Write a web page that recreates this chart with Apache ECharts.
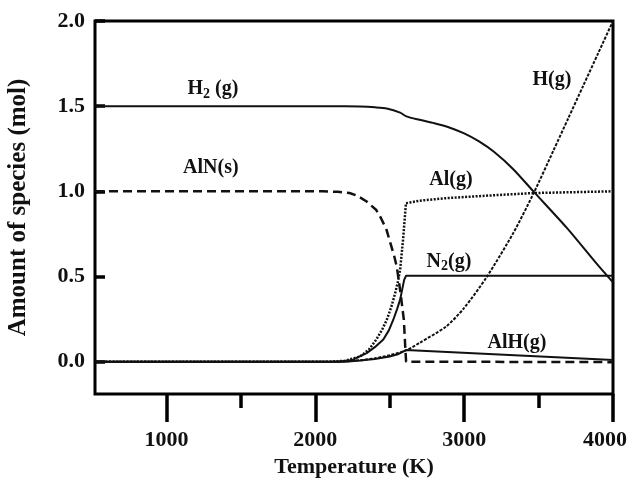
<!DOCTYPE html>
<html><head><meta charset="utf-8">
<script src="https://cdn.jsdelivr.net/npm/echarts@6/dist/echarts.min.js"></script>
<style>html,body{margin:0;padding:0;background:#fff}#c{width:629px;height:483px}</style>
</head><body><div id="c"></div>
<script>
// ---- data ----
const xMajorTicks = [1000, 2000, 3000, 4000];
const xMinorTicks = [1500, 2500, 3500];
const yTicks = [0, 0.5, 1.0, 1.5, 2.0];

const h2 = [[520,1.5],[2050,1.5],[2200,1.5],[2300,1.498],[2400,1.493],[2480,1.486],[2570,1.462],[2612,1.44],[2700,1.42],[2800,1.40],[2900,1.375],[3000,1.34],[3100,1.293],[3200,1.232],[3330,1.13],[3470,0.995],[3690,0.785],[3890,0.575],[4000,0.465]];
const aln = [[520,1.0],[2050,1.0],[2150,0.997],[2230,0.99],[2280,0.975],[2345,0.94],[2410,0.89],[2440,0.845],[2478,0.775],[2503,0.70],[2530,0.62],[2548,0.555],[2573,0.40],[2595,0.245],[2604,0.09],[2610,0.0],[2620,-0.003],[4000,-0.003]];
const alg = [[520,0],[2100,0],[2200,0.005],[2300,0.03],[2360,0.07],[2410,0.13],[2450,0.19],[2480,0.245],[2510,0.32],[2536,0.40],[2555,0.47],[2570,0.54],[2590,0.72],[2609,0.93],[2700,0.945],[2880,0.96],[3200,0.977],[3470,0.99],[4000,1.0]];
const n2 = [[520,0],[2150,0],[2250,0.01],[2345,0.05],[2400,0.085],[2457,0.13],[2495,0.185],[2524,0.246],[2550,0.31],[2570,0.364],[2597,0.48],[2610,0.505],[4000,0.505]];
const hg = [[520,0],[2150,0],[2300,0.008],[2400,0.02],[2500,0.038],[2609,0.066],[2700,0.11],[2880,0.207],[3000,0.315],[3150,0.495],[3330,0.755],[3470,0.995],[3600,1.24],[3700,1.43],[3800,1.62],[3900,1.81],[4000,2.0]];
const alh = [[520,0],[2200,0],[2300,0.006],[2400,0.016],[2500,0.03],[2560,0.045],[2609,0.068],[4000,0.01]];

const seriesLabels = [
  {text:'{m|H}{s|2}{m| (g)}', T:1312, v:1.601},
  {text:'{m|AlN(s)}', T:1298, v:1.138},
  {text:'{m|Al(g)}', T:2911, v:1.067},
  {text:'{m|H(g)}', T:3590, v:1.654},
  {text:'{m|N}{s|2}{m|(g)}', T:2898, v:0.587},
  {text:'{m|AlH(g)}', T:3355, v:0.111}
];

// ---- chart ----
const FONT = '"Liberation Serif","Times New Roman",serif';
const chart = echarts.init(document.getElementById('c'), null, {renderer:'canvas'});
const baseX = {
  type:'value', min:520, max:4000, position:'bottom',
  axisLine:{show:false, onZero:false}, splitLine:{show:false}
};
function line(data, type, width, smooth){
  return {type:'line', data:data, xAxisIndex:0, yAxisIndex:0, showSymbol:false, symbol:'none',
    smooth:smooth, lineStyle:{color:'#111', width:width, type:type}, z:3};
}
const tickFont = {fontFamily:FONT, fontWeight:'bold', fontSize:22, color:'#111'};
chart.setOption({
  animation:false,
  backgroundColor:'#fff',
  grid:{left:95, right:16, top:21, bottom:89, containLabel:false, outerBoundsMode:'none',
    show:true, borderColor:'#000', borderWidth:3, backgroundColor:'transparent'},
  xAxis:[
    Object.assign({}, baseX, {
      name:'Temperature (K)', nameLocation:'middle', nameGap:62,
      nameTextStyle:{fontFamily:FONT, fontWeight:'bold', fontSize:22, color:'#111'},
      axisTick:{show:true, customValues:xMajorTicks, length:28, lineStyle:{color:'#000', width:3.5}},
      axisLabel:Object.assign({customValues:xMajorTicks, margin:35,
        formatter:v=> v === xMajorTicks[xMajorTicks.length-1] ? '{r|' + v + '}' : String(v),
        rich:{r:Object.assign({padding:[0,16,0,0]}, tickFont)}}, tickFont)
    }),
    Object.assign({}, baseX, {
      axisTick:{show:true, customValues:xMinorTicks, length:14, lineStyle:{color:'#000', width:3.5}},
      axisLabel:{show:false}
    })
  ],
  yAxis:{
    type:'value', min:-0.19, max:2.0,
    name:'Amount of species (mol)', nameLocation:'middle', nameGap:64,
    nameTextStyle:{fontFamily:FONT, fontWeight:'bold', fontSize:25, color:'#111'},
    axisLine:{show:false, onZero:false}, splitLine:{show:false},
    axisTick:{show:true, inside:true, customValues:yTicks, length:10, lineStyle:{color:'#000', width:3.5}},
    axisLabel:Object.assign({customValues:yTicks, margin:10, formatter:v=>Number(v).toFixed(1)}, tickFont)
  },
  series:[
    line(h2,'solid',2,0.25),
    line(aln,[9,5],2.5,false),
    line(alg,[2,1.5],2.5,false),
    line(n2,'solid',2,false),
    line(hg,[3,1.5],2,0.25),
    line(alh,'solid',2,false)
  ]
});

const g = seriesLabels.map(l=>{
  const p = chart.convertToPixel({xAxisIndex:0, yAxisIndex:0}, [l.T, l.v]);
  return {type:'text', x:p[0], y:p[1], z:10, style:{
    text:l.text, align:'center', verticalAlign:'middle', fill:'#111',
    rich:{
      m:{fontFamily:FONT, fontWeight:'bold', fontSize:20, lineHeight:22, fill:'#111'},
      s:{fontFamily:FONT, fontWeight:'bold', fontSize:14, lineHeight:14, padding:[10,0,0,0], fill:'#111'}
    }}};
});
chart.setOption({graphic:{elements:g}});
</script>
</body></html>
